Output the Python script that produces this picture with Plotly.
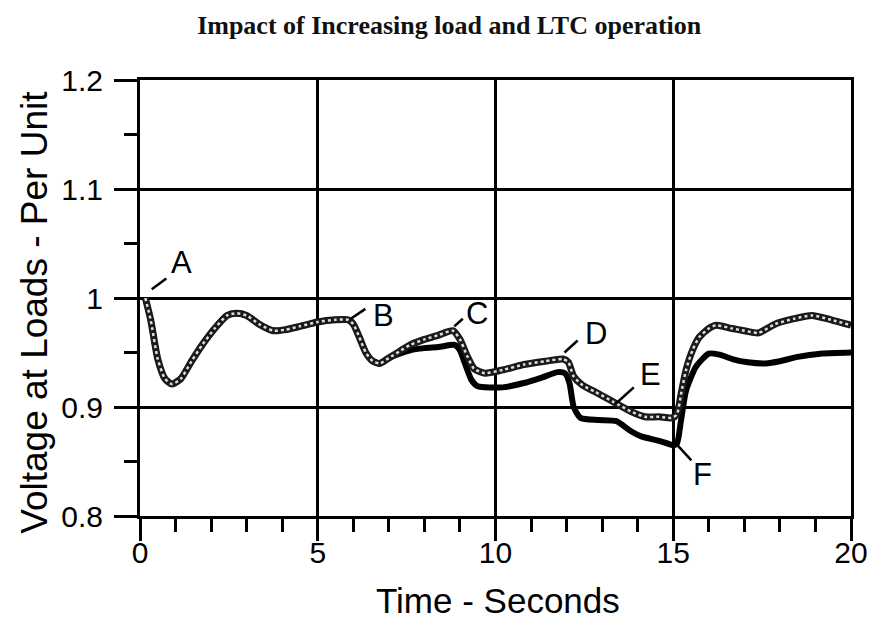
import plotly.graph_objects as go

# ---- data ----
shared_t = [0.15, 0.30, 0.50, 0.70, 0.90, 1.15, 1.45, 1.75, 2.10, 2.45, 2.70, 3.00, 3.35, 3.75,
            4.10, 4.50, 5.00, 5.50, 5.85, 6.00, 6.17, 6.35, 6.55, 6.75, 7.00]
shared_v = [1.000, 0.980, 0.944, 0.926, 0.921, 0.926, 0.942, 0.957, 0.972, 0.984, 0.986, 0.984,
            0.976, 0.970, 0.971, 0.974, 0.978, 0.980, 0.980, 0.976, 0.964, 0.950, 0.942, 0.940, 0.945]

upper_t = [7.30, 7.60, 8.00, 8.40, 8.80, 9.00, 9.20, 9.40, 9.70, 10.2, 10.8, 11.4, 11.9, 12.05,
           12.20, 12.45, 12.8, 13.3, 13.8, 14.2, 14.6, 14.95, 15.1, 15.22, 15.36, 15.54, 15.73,
           16.0, 16.2, 16.66, 17.0, 17.4, 17.86, 18.4, 18.9, 19.44, 20.0]
upper_v = [0.951, 0.957, 0.962, 0.966, 0.970, 0.962, 0.947, 0.935, 0.931, 0.934, 0.939, 0.942,
           0.944, 0.941, 0.928, 0.920, 0.914, 0.905, 0.896, 0.891, 0.891, 0.890, 0.893, 0.912,
           0.934, 0.952, 0.964, 0.972, 0.975, 0.972, 0.970, 0.968, 0.976, 0.981, 0.984, 0.980, 0.975]

lower_t = [7.30, 7.60, 8.00, 8.40, 8.85, 9.00, 9.14, 9.32, 9.50, 10.2, 10.8, 11.3, 11.75, 11.95,
           12.08, 12.2, 12.39, 12.9, 13.4, 13.8, 14.1, 14.6, 15.0, 15.1, 15.22, 15.36, 15.64,
           16.0, 16.3, 16.66, 17.1, 17.6, 18.0, 18.5, 19.2, 20.0]
lower_v = [0.949, 0.952, 0.954, 0.955, 0.957, 0.952, 0.940, 0.925, 0.919, 0.918, 0.922, 0.927,
           0.932, 0.931, 0.922, 0.900, 0.890, 0.888, 0.887, 0.878, 0.873, 0.869, 0.865, 0.866,
           0.888, 0.915, 0.937, 0.949, 0.948, 0.944, 0.941, 0.940, 0.942, 0.946, 0.949, 0.950]

label_text = ["A", "B", "C", "D", "E", "F"]
label_x = [1.17, 6.85, 9.49, 12.83, 14.35, 15.81]
label_y = [1.033, 0.984, 0.986, 0.967, 0.930, 0.838]
leader_x0 = [0.33, 5.93, 8.84, 11.94, 13.38, 15.09]
leader_y0 = [1.008, 0.981, 0.974, 0.950, 0.903, 0.866]
leader_x1 = [0.74, 6.34, 9.08, 12.31, 13.89, 15.51]
leader_y1 = [1.018, 0.990, 0.981, 0.961, 0.918, 0.851]

x_ticks = [0, 5, 10, 15, 20]
y_ticks = [0.8, 0.9, 1.0, 1.1, 1.2]
y_tick_text = ["0.8", "0.9", "1", "1.1", "1.2"]

title_text = "Impact of Increasing load and LTC operation"
x_title = "Time - Seconds"
y_title = "Voltage at Loads - Per Unit"

upper_all_t = shared_t + upper_t
upper_all_v = shared_v + upper_v
lower_all_t = shared_t + lower_t
lower_all_v = shared_v + lower_v

SANS = "Liberation Sans, Arial, sans-serif"

fig = go.Figure()
fig.add_trace(go.Scatter(x=lower_all_t, y=lower_all_v, mode="lines",
                         line=dict(color="black", width=6, shape="spline", smoothing=0.6),
                         showlegend=False, hoverinfo="skip"))
fig.add_trace(go.Scatter(x=upper_all_t, y=upper_all_v, mode="lines",
                         line=dict(color="#1a1a1a", width=7, shape="spline", smoothing=0.6),
                         showlegend=False, hoverinfo="skip"))
fig.add_trace(go.Scatter(x=upper_all_t, y=upper_all_v, mode="lines",
                         line=dict(color="#dddddd", width=2.5, dash="dot", shape="spline", smoothing=0.6),
                         showlegend=False, hoverinfo="skip"))

for i, txt in enumerate(label_text):
    fig.add_shape(type="line", xref="x", yref="y",
                  x0=leader_x0[i], y0=leader_y0[i], x1=leader_x1[i], y1=leader_y1[i],
                  line=dict(color="black", width=2.5))
    fig.add_annotation(x=label_x[i], y=label_y[i], text=txt, showarrow=False,
                       xanchor="center", yanchor="middle",
                       font=dict(family=SANS, size=31, color="black"))

fig.add_annotation(xref="paper", yref="paper", x=-0.148, y=0.468, text=y_title, textangle=-90,
                   showarrow=False, xanchor="center", yanchor="middle",
                   font=dict(family=SANS, size=37, color="black"))
fig.add_annotation(xref="paper", yref="paper", x=0.504, y=-0.193, text=x_title,
                   showarrow=False, xanchor="center", yanchor="middle",
                   font=dict(family=SANS, size=35, color="black"))

axis_font = dict(family=SANS, size=30, color="black")

# The page body has an 8px margin, so the figure is 8px smaller and offset accordingly.
fig.update_layout(
    width=872, height=614,
    margin=dict(l=132, r=20, t=72, b=106),
    paper_bgcolor="white", plot_bgcolor="white",
    title=dict(text="<b>" + title_text + "</b>", x=0.506, xanchor="center", y=0.973, yanchor="middle",
               font=dict(family="Liberation Serif, Times New Roman, serif", size=26, color="#111")),
    xaxis=dict(range=[0, 20], tickvals=x_ticks, ticks="outside", ticklen=22, tickwidth=3,
               tickcolor="black", showline=True, linecolor="black", linewidth=3, mirror=True,
               showgrid=True, gridcolor="black", gridwidth=2.5, zeroline=False,
               tickfont=axis_font, ticklabelstandoff=-14,
               minor=dict(dtick=1, ticks="outside", ticklen=13, tickwidth=3, tickcolor="black",
                          showgrid=False)),
    yaxis=dict(range=[0.8, 1.2], tickvals=y_ticks, ticktext=y_tick_text, ticks="outside",
               ticklen=23, tickwidth=3, tickcolor="black", showline=True, linecolor="black",
               linewidth=3, mirror=True, showgrid=True, gridcolor="black", gridwidth=2.5,
               zeroline=False, tickfont=axis_font, ticklabelstandoff=5,
               minor=dict(dtick=0.05, ticks="outside", ticklen=13, tickwidth=3, tickcolor="black",
                          showgrid=False)),
)

fig.write_html("out.html")
